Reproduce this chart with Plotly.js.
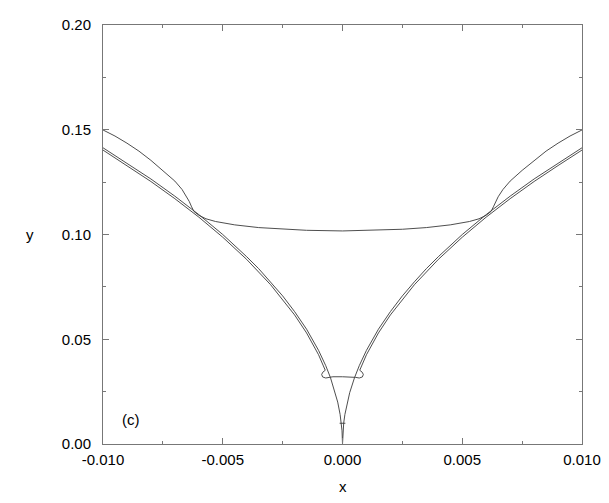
<!DOCTYPE html>
<html>
<head>
<meta charset="utf-8">
<script src="https://cdn.plot.ly/plotly-3.0.1.min.js"></script>
<style>html,body{margin:0;padding:0;background:#fff;}#chart{width:609px;height:503px;}</style>
</head>
<body>
<div id="chart"></div>
<script>
// Inner branch (continuous V reaching y=0)
var innerX = [-0.0100,-0.0090,-0.0080,-0.0070,-0.0060,-0.0050,-0.0045,-0.0040,-0.0035,-0.0030,-0.0025,-0.0020,-0.0015,-0.0010,-0.0007,-0.0005,-0.0003,-0.0002,-0.0001,-0.00005,-0.00002,0,
               0.00002,0.00005,0.0001,0.0002,0.0003,0.0005,0.0007,0.0010,0.0015,0.0020,0.0025,0.0030,0.0035,0.0040,0.0045,0.0050,0.0060,0.0070,0.0080,0.0090,0.0100];
var innerY = [0.1414,0.1341,0.1265,0.1183,0.1095,0.1000,0.0949,0.0894,0.0837,0.0774,0.0707,0.0632,0.0548,0.0447,0.0374,0.0316,0.0245,0.0200,0.0141,0.0100,0.0063,0,
               0.0063,0.0100,0.0141,0.0200,0.0245,0.0316,0.0374,0.0447,0.0548,0.0632,0.0707,0.0774,0.0837,0.0894,0.0949,0.1000,0.1095,0.1183,0.1265,0.1341,0.1414];

// Outer branch with the small loop near y = 0.033
var outerX = [-0.0100,-0.0090,-0.0080,-0.0070,-0.0060,-0.0050,-0.0040,-0.0030,-0.0020,-0.0015,-0.0010,-0.00072,-0.00082,-0.00087,-0.00083,-0.00070,-0.00055,-0.00040,0,
               0.00040,0.00055,0.00070,0.00083,0.00087,0.00082,0.00072,0.0010,0.0015,0.0020,0.0030,0.0040,0.0050,0.0060,0.0070,0.0080,0.0090,0.0100];
var outerY = [0.1403,0.1329,0.1253,0.1171,0.1083,0.0987,0.0881,0.0760,0.0616,0.0530,0.0426,0.0352,0.0343,0.0332,0.0320,0.0315,0.0318,0.0321,0.0321,
               0.0321,0.0318,0.0315,0.0320,0.0332,0.0343,0.0352,0.0426,0.0530,0.0616,0.0760,0.0881,0.0987,0.1083,0.1171,0.1253,0.1329,0.1403];

// Upper curve crossing the branches near x = +/-0.0062
var upperX = [-0.0100,-0.0095,-0.0090,-0.0085,-0.0080,-0.0075,-0.0070,-0.0067,-0.0065,-0.0064,-0.0063,-0.0062,-0.0060,-0.0057,-0.0053,-0.0045,-0.0035,-0.0025,-0.0015,0,
               0.0015,0.0025,0.0035,0.0045,0.0053,0.0057,0.0060,0.0062,0.0063,0.0064,0.0065,0.0067,0.0070,0.0075,0.0080,0.0085,0.0090,0.0095,0.0100];
var upperY = [0.1499,0.1470,0.1436,0.1398,0.1354,0.1306,0.1255,0.1215,0.1180,0.1158,0.1132,0.1110,0.1092,0.1075,0.1062,0.1046,0.1033,0.1025,0.1020,0.1017,
               0.1020,0.1025,0.1033,0.1046,0.1062,0.1075,0.1092,0.1110,0.1132,0.1158,0.1180,0.1215,0.1255,0.1306,0.1354,0.1398,0.1436,0.1470,0.1499];

// Tiny crossing near y = 0.01
var tinyX = [-0.00012, 0.00012];
var tinyY = [0.0099, 0.0099];

var xTickVals = [-0.010,-0.005,0.000,0.005,0.010];
var xTickText = ['-0.010','-0.005','0.000','0.005','0.010'];
var yTickVals = [0.00,0.05,0.10,0.15,0.20];
var yTickText = ['0.00','0.05','0.10','0.15','0.20'];

var lineStyle = {color:'#3a3a3a', width:0.9};
var traces = [
  {x:innerX, y:innerY, mode:'lines', line:lineStyle, hoverinfo:'skip'},
  {x:outerX, y:outerY, mode:'lines', line:lineStyle, hoverinfo:'skip'},
  {x:upperX, y:upperY, mode:'lines', line:lineStyle, hoverinfo:'skip'},
  {x:tinyX, y:tinyY, mode:'lines', line:lineStyle, hoverinfo:'skip'}
];

var font = {family:'"Liberation Sans", Arial, sans-serif', size:15, color:'#000'};
var axisCommon = {
  showgrid:false, zeroline:false, showline:true, linecolor:'#777', linewidth:1,
  mirror:'allticks', ticks:'inside', ticklen:6, tickcolor:'#777', tickwidth:1,
  tickfont:font, tickmode:'array'
};
var layout = {
  width:609, height:503,
  margin:{l:103, r:27, t:25, b:59, pad:0},
  paper_bgcolor:'#fff', plot_bgcolor:'#fff',
  showlegend:false,
  font:font,
  xaxis:Object.assign({}, axisCommon, {
    range:[-0.010,0.010], tickvals:xTickVals, ticktext:xTickText, ticklabelstandoff:2,
    minor:{tickmode:'linear', tick0:-0.010, dtick:0.0025, ticks:'inside', ticklen:3, tickcolor:'#777', tickwidth:1}
  }),
  yaxis:Object.assign({}, axisCommon, {
    range:[0,0.20], tickvals:yTickVals, ticktext:yTickText, ticklabelstandoff:8,
    minor:{tickmode:'linear', tick0:0, dtick:0.025, ticks:'inside', ticklen:3, tickcolor:'#777', tickwidth:1}
  }),
  annotations:[
    {text:'y', xref:'paper', yref:'paper', x:-0.152, y:0.5, xanchor:'center', yanchor:'middle', showarrow:false, font:font},
    {text:'x', xref:'paper', yref:'paper', x:0.5, y:-0.102, xanchor:'center', yanchor:'middle', showarrow:false, font:font},
    {text:'(c)', xref:'x', yref:'y', x:-0.00883, y:0.0119, xanchor:'center', yanchor:'middle', showarrow:false, font:font}
  ]
};
Plotly.newPlot('chart', traces, layout, {staticPlot:true, displayModeBar:false});
</script>
</body>
</html>
